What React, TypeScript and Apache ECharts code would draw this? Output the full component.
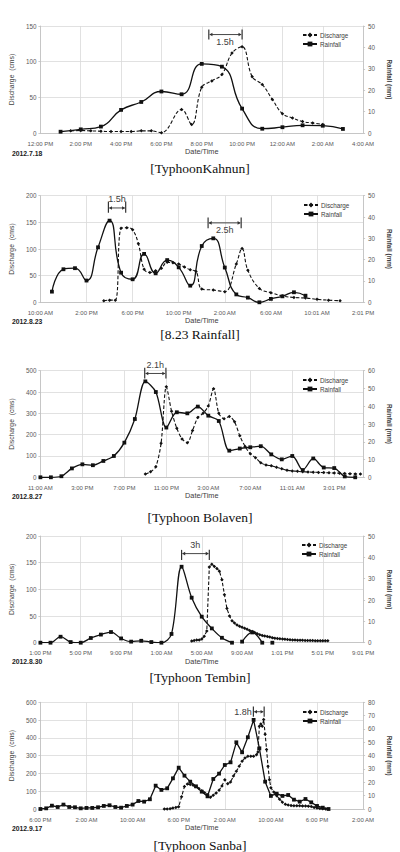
import React, { useEffect, useRef } from 'react';
import * as echarts from 'echarts';

// ---------- Panel 1: Typhoon Kahnun (hours after 12:00 PM, 2012.7.18)
const k1XLabels = ['12:00 PM', '2:00 PM', '4:00 PM', '6:00 PM', '8:00 PM', '10:00 PM', '12:00 AM', '2:00 AM', '4:00 AM'];
const k1RainHours = [1, 2, 3, 4, 5, 6, 7, 8, 9, 10, 11, 12, 13, 14, 15];
const k1RainMm = [0.6, 1.7, 3.0, 10.8, 14.5, 19.4, 18.1, 32.3, 31, 11.4, 2, 2.7, 3.6, 3.4, 1.9];
const k1DisHours = [1.5, 2, 2.5, 3, 3.5, 4, 4.5, 5, 5.5, 6, 7, 7.5, 8, 8.5, 9, 9.5, 10, 10.5, 11, 11.5, 12, 12.5, 13, 13.5, 14];
const k1DisCms = [3, 3.5, 3, 2.5, 2, 2, 2, 3, 3, 0.5, 33, 12, 64, 73, 82, 112, 121, 79, 68, 47, 27, 21, 16, 14, 12];

// ---------- Panel 2: 8.23 Rainfall (hours after 10:00 AM, 2012.8.23)
const r2XLabels = ['10:00 AM', '2:00 PM', '6:00 PM', '10:00 PM', '2:00 AM', '6:00 AM', '10:01 AM', '2:01 PM'];
const r2RainHours = [1, 2, 3, 4, 5, 6, 7, 8, 9, 10, 11, 12, 13, 14, 15, 16, 17, 18, 19, 20, 21, 22, 23];
const r2RainMm = [5, 15.5, 16, 10.2, 25.8, 38.3, 13.9, 10.8, 22.7, 13.6, 19.8, 16.4, 7.8, 26.4, 30, 16.3, 3.7, 2.2, 0, 1.6, 2.8, 4.7, 3.1];
const r2DisHours = [5.5, 6, 6.5, 7, 7.5, 8, 8.5, 9, 9.5, 10, 10.5, 11, 11.5, 12, 12.5, 13, 13.5, 14, 15, 16, 17, 17.5, 18, 19, 20, 21, 22, 23, 24, 25, 26];
const r2DisCms = [3, 4, 4, 139, 140, 136, 110, 62, 56, 59, 64, 75, 74, 72, 66, 61, 58, 25, 23, 20, 72, 101, 60, 26, 18, 12, 9, 8, 5.6, 4, 3];

// ---------- Panel 3: Typhoon Bolaven (hours after 11:00 AM, 2012.8.27)
const b3XLabels = ['11:00 AM', '3:00 PM', '7:00 PM', '11:00 PM', '3:00 AM', '7:00 AM', '11:01 AM', '3:01 PM'];
const b3RainHours = [0, 1, 2, 3, 4, 5, 6, 7, 8, 9, 10, 11, 12, 13, 14, 15, 16, 17, 18, 19, 20, 21, 22, 23, 24, 25, 26, 27, 28, 29, 30];
const b3RainMm = [0, 0, 0.6, 5, 7.3, 6.8, 9.2, 12, 19.5, 32.8, 54, 48, 28, 36.6, 36, 39.8, 34.7, 31.7, 15, 16.2, 16.9, 17.5, 12.9, 10.1, 12, 4.1, 10.6, 5.5, 5.2, 0.5, 0];
const b3DisHours = [10, 10.5, 11, 11.5, 12, 12.5, 13, 13.5, 14, 14.5, 15, 15.5, 16, 16.5, 17, 17.5, 18, 18.5, 19, 19.5, 20, 20.5, 21, 21.5, 22, 22.5, 23, 23.5, 24, 24.5, 25, 25.5, 26, 26.5, 27, 27.5, 28, 28.5, 29, 29.5, 30, 30.5];
const b3DisCms = [15, 26, 50, 160, 425, 310, 230, 180, 162, 220, 280, 300, 335, 415, 300, 275, 285, 260, 195, 145, 110, 92, 68, 58, 54, 47, 40, 33, 30, 28, 26, 25, 24, 23, 22, 21, 20, 19, 18, 17, 16, 15];

// ---------- Panel 4: Typhoon Tembin (hours after 1:00 PM, 2012.8.30)
const t4XLabels = ['1:00 PM', '5:00 PM', '9:00 PM', '1:00 AM', '5:00 AM', '9:00 AM', '1:01 PM', '5:01 PM', '9:01 PM'];
const t4RainHours = [0, 1, 2, 3, 4, 5, 6, 7, 8, 9, 10, 11, 12, 13, 14, 15, 16, 17, 18, 19, 19.5, 20, 21, 22, 22.5, 23];
const t4RainMm: (number | null)[] = [0, 0, 2.8, 0.3, 0, 2.2, 3.8, 5, 2, 0.5, 0.9, 0.3, 0, 4.1, 35.6, 21.1, 12.2, 6.7, 2.3, 0, null, 0.5, 4.8, 0, null, 0];
const t4DisHours = [15, 15.25, 15.5, 15.75, 16, 16.25, 16.5, 16.75, 17, 17.25, 17.5, 17.75, 18, 18.25, 18.5, 18.75, 19, 19.25, 19.5, 19.75, 20, 20.25, 20.5, 20.75, 21, 21.25, 21.5, 21.75, 22, 22.25, 22.5, 22.75, 23, 23.25, 23.5, 23.75, 24, 24.25, 24.5, 24.75, 25, 25.25, 25.5, 25.75, 26, 26.25, 26.5, 26.75, 27, 27.25, 27.5, 27.75, 28, 28.25, 28.5];
const t4DisCms = [3, 4, 5, 5, 7, 12, 22, 142, 147, 143, 139, 134, 118, 90, 64, 50, 41, 37, 33, 31, 29, 27, 25, 23, 21, 19, 17, 15, 13.5, 12.5, 11.5, 10.5, 9.5, 8.5, 8, 7.5, 7, 6.5, 6, 5.5, 5.2, 5, 4.8, 4.6, 4.4, 4.2, 4, 4, 3.9, 3.8, 3.8, 3.7, 3.7, 3.6, 3.6];

// ---------- Panel 5: Typhoon Sanba (hours after 6:00 PM, 2012.9.17)
const s5XLabels = ['6:00 PM', '2:00 AM', '10:00 AM', '6:00 PM', '2:00 AM', '10:00 AM', '6:00 PM', '2:00 AM'];
const s5RainHours = [0, 1, 2, 3, 4, 5, 6, 7, 8, 9, 10, 11, 12, 13, 14, 15, 16, 17, 18, 19, 20, 21, 22, 23, 24, 25, 26, 27, 28, 29, 30, 31, 32, 33, 34, 35, 36, 37, 38, 39, 40, 41, 42, 43, 44, 45, 46, 47, 48, 49, 50];
const s5RainMm = [0, 0.5, 2.5, 1.5, 3.3, 1.5, 1.3, 0.5, 0.8, 0.8, 1.3, 2.3, 2.8, 1.5, 1, 2.3, 3.3, 6, 5.5, 7.3, 17.5, 14.3, 15.5, 23, 31, 25, 20.5, 17, 13, 9.5, 22.5, 26.5, 33, 35, 50, 42.5, 53.8, 66.8, 45.5, 20.5, 9.8, 11.5, 9.8, 10.5, 7, 5.5, 7.5, 5, 2.3, 1, 0];
const s5DisHours = [21.5, 22, 22.5, 23, 23.5, 24, 24.5, 25, 25.5, 26, 26.5, 27, 27.5, 28, 28.5, 29, 29.5, 30, 30.5, 31, 31.5, 32, 32.5, 33, 33.5, 34, 34.5, 35, 35.5, 36, 36.5, 37, 37.5, 37.75, 38, 38.25, 38.5, 38.75, 39, 39.25, 39.5, 39.75, 40, 40.5, 41, 41.5, 42, 42.5, 43, 43.5, 44, 44.5, 45, 45.5, 46, 46.5, 47, 47.5, 48, 48.5, 49, 49.5];
const s5DisCms = [0, 0, 2, 5, 9, 13, 69, 126, 140, 138, 134, 125, 115, 103, 92, 80, 66, 78, 90, 105, 130, 165, 142, 152, 185, 212, 240, 268, 287, 296, 297, 296, 305, 320, 465, 478, 465, 503, 420, 335, 240, 165, 120, 95, 75, 55, 38, 27, 22, 19, 18, 18, 18, 17, 17, 16, 14, 9, 5, 3, 1, 0];

// ---------- Lag annotations (data units: hours, discharge cms)
type Note = { x1: number; x2: number; yTop: number; yBottom: number; yArrow: number; text: string; textX: number; textY: number; align: 'center' | 'right' };
const k1Notes: Note[] = [{ x1: 8.35, x2: 10, yTop: 145, yBottom: 131, yArrow: 138, text: '1.5h', textX: 9.15, textY: 127, align: 'center' }];
const r2Notes: Note[] = [
  { x1: 5.9, x2: 7.4, yTop: 189, yBottom: 168, yArrow: 177, text: '1.5h', textX: 6.65, textY: 193, align: 'center' },
  { x1: 14.55, x2: 17.42, yTop: 159, yBottom: 139, yArrow: 149, text: '2.5h', textX: 16, textY: 136, align: 'center' },
];
const b3Notes: Note[] = [{ x1: 9.94, x2: 11.96, yTop: 514, yBottom: 464, yArrow: 487, text: '2.1h', textX: 10.95, textY: 528, align: 'center' }];
const t4Notes: Note[] = [{ x1: 14, x2: 16.75, yTop: 174, yBottom: 155, yArrow: 167, text: '3h', textX: 15.35, textY: 184, align: 'center' }];
const s5Notes: Note[] = [{ x1: 36.96, x2: 38.83, yTop: 576, yBottom: 519, yArrow: 547, text: '1.8h', textX: 36.7, textY: 543, align: 'right' }];

const SANS = "'Liberation Sans', Arial, sans-serif";
const SERIF = "'Liberation Serif', 'Times New Roman', serif";

const zip = (xs: number[], ys: (number | null)[]) => xs.map((x, i) => [x, ys[i] === null ? '-' : ys[i]]);

type Panel = {
  grid: { left: number; top: number; width: number; height: number };
  xMax: number; xStep: number; xLabels: string[];
  yMax: number; yStep: number; y2Max: number; y2Step: number;
  rain: any[]; dis: any[]; smoothRain: number | boolean; smoothDis: number | boolean;
  date: string; dateY: number; caption: string; captionY: number;
  legend: { left: number; top: number }; notes: Note[];
};

const panels: Panel[] = [
  {
    grid: { left: 26, top: 26, width: 351, height: 107 }, xMax: 16, xStep: 2, xLabels: k1XLabels,
    yMax: 150, yStep: 50, y2Max: 50, y2Step: 10,
    rain: zip(k1RainHours, k1RainMm), dis: zip(k1DisHours, k1DisCms), smoothRain: 0.5, smoothDis: 0.4,
    date: '2012.7.18', dateY: 153.5, caption: '[TyphoonKahnun]', captionY: 168,
    legend: { left: 302, top: 32 }, notes: k1Notes,
  },
  {
    grid: { left: 26, top: 195.7, width: 351, height: 106.6 }, xMax: 28, xStep: 4, xLabels: r2XLabels,
    yMax: 200, yStep: 50, y2Max: 50, y2Step: 10,
    rain: zip(r2RainHours, r2RainMm), dis: zip(r2DisHours, r2DisCms), smoothRain: 0.5, smoothDis: 0.4,
    date: '2012.8.23', dateY: 321, caption: '[8.23 Rainfall]', captionY: 334,
    legend: { left: 303, top: 202 }, notes: r2Notes,
  },
  {
    grid: { left: 26, top: 370.7, width: 350.7, height: 106.6 }, xMax: 30.75, xStep: 4, xLabels: b3XLabels,
    yMax: 500, yStep: 100, y2Max: 60, y2Step: 10,
    rain: zip(b3RainHours, b3RainMm), dis: zip(b3DisHours, b3DisCms), smoothRain: 0.3, smoothDis: 0.3,
    date: '2012.8.27', dateY: 496.5, caption: '[Typhoon Bolaven]', captionY: 517,
    legend: { left: 302, top: 377 }, notes: b3Notes,
  },
  {
    grid: { left: 25, top: 536, width: 352.7, height: 106.7 }, xMax: 32, xStep: 4, xLabels: t4XLabels,
    yMax: 200, yStep: 50, y2Max: 50, y2Step: 10,
    rain: zip(t4RainHours, t4RainMm), dis: zip(t4DisHours, t4DisCms), smoothRain: 0.35, smoothDis: false,
    date: '2012.8.30', dateY: 661.5, caption: '[Typhoon Tembin]', captionY: 677,
    legend: { left: 301, top: 542 }, notes: t4Notes,
  },
  {
    grid: { left: 25, top: 702.3, width: 350, height: 106.7 }, xMax: 56, xStep: 8, xLabels: s5XLabels,
    yMax: 600, yStep: 100, y2Max: 80, y2Step: 10,
    rain: zip(s5RainHours, s5RainMm), dis: zip(s5DisHours, s5DisCms), smoothRain: false, smoothDis: false,
    date: '2012.9.17', dateY: 828, caption: '[Typhoon Sanba]', captionY: 845,
    legend: { left: 302, top: 709 }, notes: s5Notes,
  },
];

const GRID_COLOR = '#d9d9d9';
const AXIS_COLOR = '#bfbfbf';
const LABEL_COLOR = '#595959';

function buildOption() {
  return {
    animation: false,
    textStyle: { fontFamily: SANS },
    grid: panels.map((p) => ({ ...p.grid, containLabel: false })),
    xAxis: panels.map((p, i) => ({
      type: 'value', gridIndex: i, min: 0, max: p.xMax, interval: p.xStep,
      name: 'Date/Time', nameLocation: 'middle', nameGap: 15,
      nameTextStyle: { fontSize: 7.3, color: '#404040', fontFamily: SANS },
      axisLine: { show: true, onZero: false, lineStyle: { color: AXIS_COLOR, width: 0.8 } },
      axisTick: { show: false },
      axisLabel: {
        fontSize: 6, color: LABEL_COLOR, margin: 7.5, fontFamily: SANS,
        formatter: (v: number) => {
          const k = Math.round(v / p.xStep);
          return Math.abs(k * p.xStep - v) < 1e-6 ? (p.xLabels[k] ?? '') : '';
        },
      },
      splitLine: { show: true, lineStyle: { color: GRID_COLOR, width: 0.8 } },
    })),
    yAxis: panels.flatMap((p, i) => [
      {
        type: 'value', gridIndex: i, position: 'left', min: 0, max: p.yMax, interval: p.yStep,
        name: 'Discharge  (cms)', nameLocation: 'middle', nameGap: 19,
        nameTextStyle: { fontSize: 6.8, color: '#404040', fontFamily: SANS },
        axisLine: { show: true, onZero: false, lineStyle: { color: AXIS_COLOR, width: 0.8 } },
        axisTick: { show: true, length: 2, lineStyle: { color: AXIS_COLOR, width: 0.8 } },
        axisLabel: { fontSize: 6.3, color: LABEL_COLOR, margin: 4, fontFamily: SANS },
        splitLine: { show: true, lineStyle: { color: GRID_COLOR, width: 0.8 } },
      },
      {
        type: 'value', gridIndex: i, position: 'right', min: 0, max: p.y2Max, interval: p.y2Step,
        name: 'Rainfall (mm)', nameLocation: 'middle', nameRotate: -90, nameGap: 21,
        nameTextStyle: { fontSize: 6.3, color: '#404040', fontWeight: 'bold', fontFamily: SANS },
        axisLine: { show: true, onZero: false, lineStyle: { color: AXIS_COLOR, width: 0.8 } },
        axisTick: { show: true, length: 2, lineStyle: { color: AXIS_COLOR, width: 0.8 } },
        axisLabel: { fontSize: 6.3, color: LABEL_COLOR, margin: 5, fontFamily: SANS },
        splitLine: { show: false },
      },
    ]),
    legend: panels.map((p) => ({
      orient: 'vertical', left: p.legend.left, top: p.legend.top,
      itemWidth: 14, itemHeight: 6, itemGap: 3, padding: 0, selectedMode: false,
      textStyle: { fontSize: 6.3, color: '#404040', fontFamily: SANS, padding: [0, 0, 0, -2] },
      data: ['Discharge', 'Rainfall'],
    })),
    series: panels.flatMap((p, i) => [
      {
        type: 'line', name: 'Discharge', xAxisIndex: i, yAxisIndex: 2 * i,
        data: p.dis, smooth: p.smoothDis, symbol: 'diamond', symbolSize: 3.5, showSymbol: true,
        lineStyle: { color: '#111', width: 1.1, type: [3.5, 2] }, itemStyle: { color: '#111' },
        connectNulls: false, z: 2,
      },
      {
        type: 'line', name: 'Rainfall', xAxisIndex: i, yAxisIndex: 2 * i + 1,
        data: p.rain, smooth: p.smoothRain, symbol: 'rect', symbolSize: 3.8, showSymbol: true,
        lineStyle: { color: '#111', width: 1.3 }, itemStyle: { color: '#111' },
        connectNulls: false, z: 3,
      },
    ]),
  };
}

function buildGraphics(chart: echarts.ECharts) {
  const els: any[] = [];
  const ink = '#333';
  panels.forEach((p, i) => {
    const toPx = (x: number, y: number) => chart.convertToPixel({ xAxisIndex: i, yAxisIndex: 2 * i } as any, [x, y]) as number[];
    p.notes.forEach((n) => {
      const t1 = toPx(n.x1, n.yTop), b1 = toPx(n.x1, n.yBottom);
      const t2 = toPx(n.x2, n.yTop), b2 = toPx(n.x2, n.yBottom);
      const m1 = toPx(n.x1, n.yArrow), m2 = toPx(n.x2, n.yArrow);
      const tp = toPx(n.textX, n.textY);
      const ls = { stroke: ink, lineWidth: 1.2 };
      els.push({ type: 'line', silent: true, shape: { x1: t1[0], y1: t1[1], x2: b1[0], y2: b1[1] }, style: ls });
      els.push({ type: 'line', silent: true, shape: { x1: t2[0], y1: t2[1], x2: b2[0], y2: b2[1] }, style: ls });
      els.push({ type: 'line', silent: true, shape: { x1: m1[0] + 1, y1: m1[1], x2: m2[0] - 1, y2: m2[1] }, style: { stroke: ink, lineWidth: 0.9 } });
      els.push({ type: 'polygon', silent: true, shape: { points: [[m1[0] + 0.6, m1[1]], [m1[0] + 3.6, m1[1] - 1.8], [m1[0] + 3.6, m1[1] + 1.8]] }, style: { fill: ink } });
      els.push({ type: 'polygon', silent: true, shape: { points: [[m2[0] - 0.6, m2[1]], [m2[0] - 3.6, m2[1] - 1.8], [m2[0] - 3.6, m2[1] + 1.8]] }, style: { fill: ink } });
      els.push({
        type: 'text', silent: true, x: tp[0], y: tp[1],
        style: { text: n.text, fill: '#404040', fontSize: 9, fontFamily: SANS, align: n.align, verticalAlign: 'middle' },
      });
    });
    els.push({
      type: 'text', silent: true, x: 12, y: p.dateY,
      style: { text: p.date, fill: '#222', fontSize: 6.8, fontWeight: 'bold', fontFamily: SANS, align: 'left', verticalAlign: 'middle' },
    });
    els.push({
      type: 'text', silent: true, x: 200, y: p.captionY,
      style: { text: p.caption, fill: '#111', fontSize: 13.5, fontFamily: SERIF, align: 'center', verticalAlign: 'middle' },
    });
  });
  return els;
}

export default function App() {
  const ref = useRef<HTMLDivElement>(null);
  useEffect(() => {
    if (!ref.current) return;
    const chart = echarts.init(ref.current, undefined, { renderer: 'svg' });
    chart.setOption(buildOption() as any);
    chart.setOption({ graphic: buildGraphics(chart) } as any);
    return () => chart.dispose();
  }, []);
  return (
    <div
      ref={ref}
      style={{ position: 'absolute', left: 0, top: 0, width: 400, height: 852, background: '#fff' }}
    />
  );
}
